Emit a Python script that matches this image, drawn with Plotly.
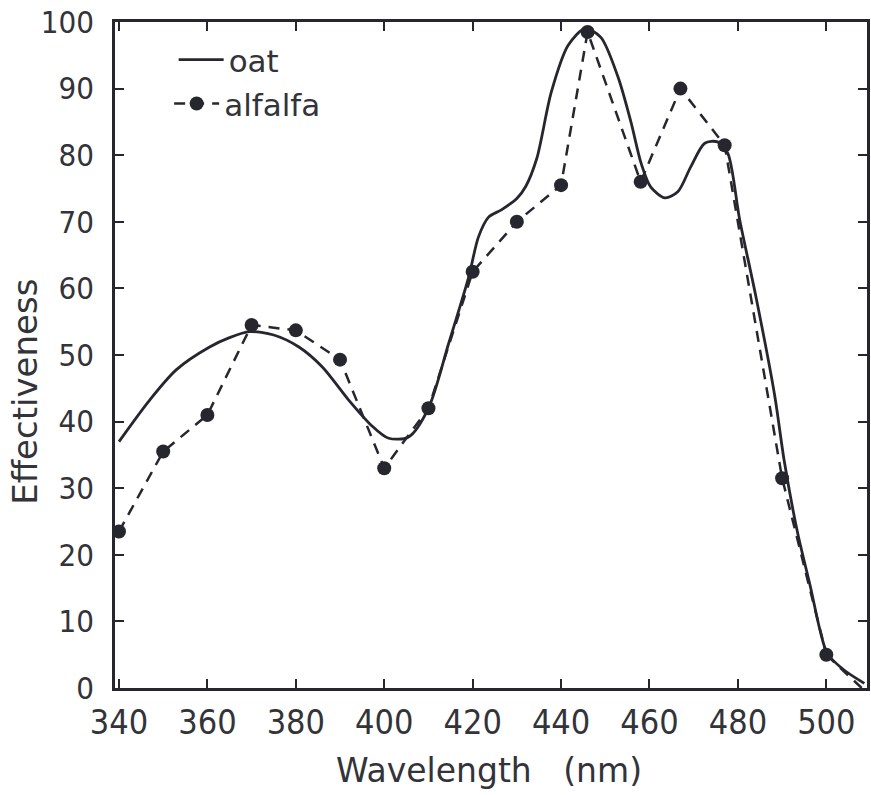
import plotly.graph_objects as go

# Action spectrum of phototropism: oat (smooth curve) and alfalfa (measured points)
oat_wavelength = [340, 346.9, 353, 360.5, 365, 369.5, 375, 380.7, 386, 392, 397,
                  401, 405.5, 410, 414.6, 419.1, 421.3, 423.6, 426.5, 430, 432,
                  434.5, 437.8, 441.6, 445.4, 449, 452.9, 455.8, 458.1, 460.3, 463.5,
                  466.4, 469.3, 472.5, 475.4, 477.7, 480.4, 484, 488.3, 490.5, 493.5,
                  496.4, 498.6, 500.2, 504, 508.6]
oat_effect = [37.0, 43.2, 47.8, 51.2, 52.6, 53.5, 53.0, 51.2, 48.2, 43.2, 39.5,
              37.5, 37.7, 42.0, 51.8, 61.7, 67.7, 70.7, 71.8, 73.5, 75.3,
              79.5, 89.5, 96.5, 99.0, 97.7, 91.7, 85.0, 78.8, 75.2, 73.6,
              74.5, 78.2, 81.8, 82.0, 80.3, 70.3, 59.0, 44.0, 34.0, 23.3,
              15.2, 8.6, 5.2, 2.7, 0.7]

alfalfa_wavelength = [340, 350, 360, 370, 380, 390, 400, 410, 420, 430, 440,
                      446, 458, 467, 477, 490, 500]
alfalfa_effect = [23.5, 35.5, 41.0, 54.5, 53.7, 49.3, 33.0, 42.0, 62.5, 70.0, 75.5,
                  98.5, 76.0, 90.0, 81.5, 31.5, 5.0]
# dashed run-out of the alfalfa curve down to the baseline (no measurement)
alfalfa_tail_wavelength = [500, 508]
alfalfa_tail_effect = [5.0, 0.0]

x_ticks = [340, 360, 380, 400, 420, 440, 460, 480, 500]
y_ticks = [0, 10, 20, 30, 40, 50, 60, 70, 80, 90, 100]

INK = "#26262e"
TEXT = "#33333a"
TICK_FONT = "Liberation Sans Narrow, DejaVu Sans Condensed, Roboto, sans-serif"
LABEL_FONT = "DejaVu Sans, sans-serif"
DASH = "11px,8px"

fig = go.Figure()

fig.add_trace(go.Scatter(
    x=oat_wavelength, y=oat_effect, name="oat", mode="lines",
    line=dict(color=INK, width=2.8, shape="spline", smoothing=0.8),
    legend="legend",
))
fig.add_trace(go.Scatter(
    x=alfalfa_wavelength, y=alfalfa_effect, name="alfalfa", mode="lines+markers",
    line=dict(color=INK, width=2.5, dash=DASH),
    marker=dict(color=INK, size=14, symbol="circle"),
    legend="legend2",
))
fig.add_trace(go.Scatter(
    x=alfalfa_tail_wavelength, y=alfalfa_tail_effect, mode="lines",
    line=dict(color=INK, width=2.5, dash=DASH),
    showlegend=False, hoverinfo="skip",
))

axis_common = dict(
    showline=True, linecolor=INK, linewidth=2.6, mirror="allticks",
    ticks="inside", ticklen=9, tickwidth=2.2, tickcolor=INK,
    showgrid=False, zeroline=False,
)

fig.update_xaxes(
    range=[339.1, 509.2], tickvals=x_ticks, ticktext=[str(v) for v in x_ticks],
    tickfont=dict(family=TICK_FONT, size=34, color=TEXT),
    ticklabelstandoff=2, **axis_common,
)
fig.update_yaxes(
    range=[0, 100], tickvals=y_ticks, ticktext=[str(v) for v in y_ticks],
    tickfont=dict(family=TICK_FONT, size=31, color=TEXT),
    ticklabelstandoff=12, **axis_common,
)

legend_style = dict(
    bgcolor="rgba(0,0,0,0)", borderwidth=0,
    font=dict(family=LABEL_FONT, size=31, color=TEXT),
    xref="paper", yref="paper", xanchor="left", yanchor="middle",
    itemwidth=45,
)
fig.update_layout(
    width=871, height=795,
    margin=dict(l=115, r=1, t=22, b=107),
    paper_bgcolor="white", plot_bgcolor="white",
    legend=dict(x=0.078, y=0.943, **legend_style),
    legend2=dict(x=0.072, y=0.877, **legend_style),
    annotations=[
        dict(text="Wavelength\u00a0\u00a0\u00a0(nm)", xref="paper", yref="paper",
             x=0.497, y=0, xanchor="center", yanchor="middle", yshift=-82,
             showarrow=False, font=dict(family=LABEL_FONT, size=33, color=TEXT)),
        dict(text="Effectiveness", xref="paper", yref="paper",
             x=-0.119, y=0.444, xanchor="center", yanchor="middle", textangle=-90,
             showarrow=False, font=dict(family=LABEL_FONT, size=34, color=TEXT)),
    ],
)

fig.write_html("out.html")
